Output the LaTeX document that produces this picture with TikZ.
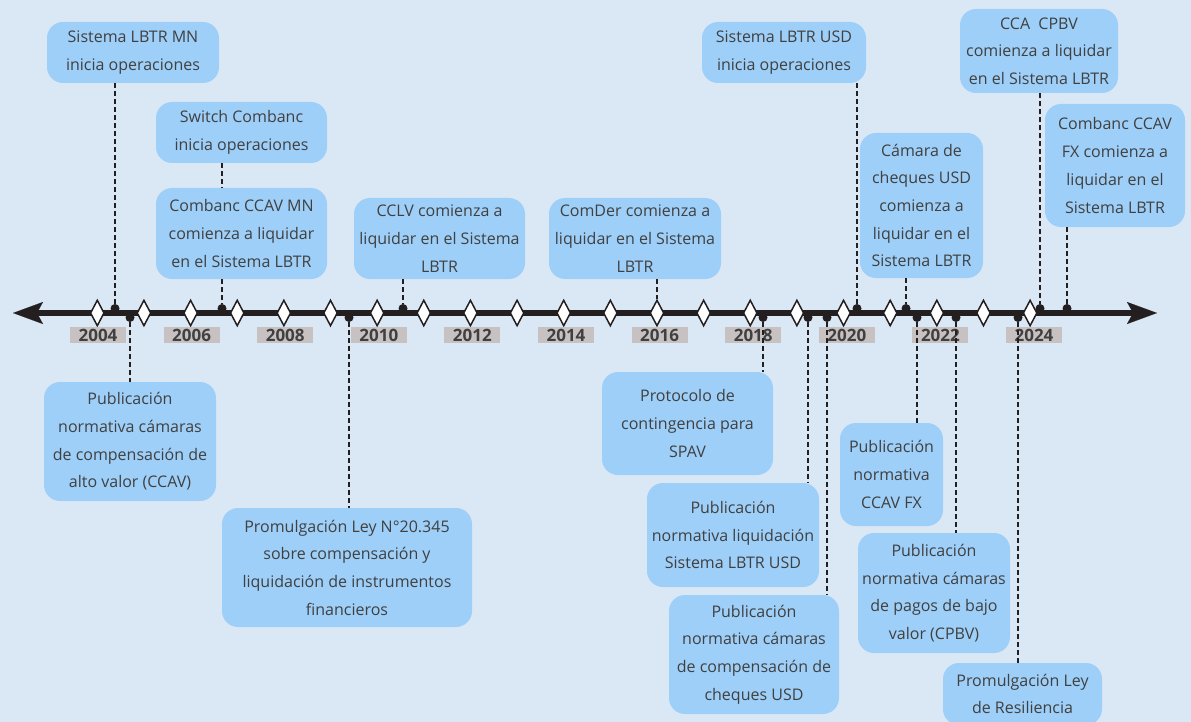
\documentclass[tikz,border=0pt]{standalone}
\usepackage{fontspec}
\setmainfont{Open Sans}
\usetikzlibrary{arrows.meta,shapes.geometric}
\definecolor{bgblue}{RGB}{218,232,246}
\definecolor{boxblue}{RGB}{158,207,248}
\definecolor{yeargray}{RGB}{200,193,193}
\definecolor{inkgray}{RGB}{64,64,64}
\definecolor{axisblack}{RGB}{35,31,32}
\tikzset{
  event/.style={fill=boxblue, rounded corners=16pt, align=center, text=inkgray, inner sep=0pt, font=\fontsize{16}{27.7}\selectfont},
  yearlab/.style={fill=yeargray, minimum width=56pt, minimum height=16pt, inner sep=0pt, text=inkgray, font=\fontsize{17}{17}\selectfont\bfseries},
  tick/.style={draw=axisblack, diamond, fill=white, line width=1.5pt, minimum width=14pt, minimum height=26pt, inner sep=0pt},
  pin/.style={circle, fill=axisblack, minimum size=9pt, inner sep=0pt},
  leader/.style={draw=axisblack, line width=2pt, dash pattern=on 5pt off 3pt},
  timeline/.style={draw=axisblack, line width=6pt, {Stealth[length=30pt,width=22pt,inset=6pt,line width=0.1pt]}-{Stealth[length=30pt,width=22pt,inset=6pt,line width=0.1pt]}}
}

\begin{document}
\begin{tikzpicture}[x=1pt,y=-1pt]
  \fill[bgblue] (0,0) rectangle (1191,722);
  \useasboundingbox (0,0) rectangle (1191,722);
  \clip (0,0) rectangle (1191,722);

  % time axis
  \coordinate (lend) at (13,313);
  \coordinate (rend) at (1157,313);
  \draw[timeline] (lend) -- (rend);

  \foreach \x [count=\i] in {115,222,403,857,906,1040,1067}
    \node[pin] (pa\i) at (\x,308.5) {};
  \foreach \x [count=\i] in {130,349,763,808,827,917,956,1018}
    \node[pin] (pb\i) at (\x,317.5) {};

  \foreach \yr in {2004,...,2024}
    \node[tick] (d\yr) at ({97.3+46.64*(\yr-2004)},313) {};
  \foreach \yr in {2004,2006,...,2024}
    \node[yearlab] (y\yr) at ({98+46.8*(\yr-2004)},335) {\yr};

  % above the axis
  \node[event, minimum width=172pt, minimum height=61pt] (lbtrmn) at (133,52.5) {Sistema LBTR MN\\inicia operaciones};
  \node[event, minimum width=171pt, minimum height=61pt] (switch) at (241.5,132.5) {Switch Combanc\\inicia operaciones};
  \node[event, minimum width=171pt, minimum height=91pt] (ccavmn) at (241.5,233.5) {Combanc CCAV MN\\comienza a liquidar\\en el Sistema LBTR};
  \node[event, minimum width=171pt, minimum height=81pt] (cclv) at (439.5,238.5) {CCLV comienza a\\liquidar en el Sistema\\LBTR};
  \node[event, minimum width=172pt, minimum height=81pt] (comder) at (635,238.5) {ComDer comienza a\\liquidar en el Sistema\\LBTR};
  \node[event, minimum width=164pt, minimum height=61pt] (lbtrusd) at (784,52.5) {Sistema LBTR USD\\inicia operaciones};
  \node[event, minimum width=123pt, minimum height=145pt] (camusd) at (921.5,205.5) {Cámara de\\cheques USD\\comienza a\\liquidar en el\\Sistema LBTR};
  \node[event, minimum width=158pt, minimum height=84pt] (cpbv) at (1039,51) {CCA\ \ CPBV\\comienza a liquidar\\en el Sistema LBTR};
  \node[event, minimum width=140pt, minimum height=123pt] (ccavfx) at (1115,165.5) {Combanc CCAV\\FX comienza a\\liquidar en el\\Sistema LBTR};

  % below the axis
  \node[event, minimum width=172pt, minimum height=119pt] (pubccav) at (130,441.5) {Publicación\\normativa cámaras\\de compensación de\\alto valor (CCAV)};
  \node[event, minimum width=250pt, minimum height=119pt] (ley20345) at (347,567.5) {Promulgación Ley N°20.345\\sobre compensación y\\liquidación de instrumentos\\financieros};
  \node[event, minimum width=171pt, minimum height=103pt] (spav) at (687.5,423.5) {Protocolo de\\contingencia para\\SPAV};
  \node[event, minimum width=172pt, minimum height=104pt] (publbtrusd) at (733,535) {Publicación\\normativa liquidación\\Sistema LBTR USD};
  \node[event, minimum width=170pt, minimum height=119pt] (pubcheques) at (754,654.5) {Publicación\\normativa cámaras\\de compensación de\\cheques USD};
  \node[event, minimum width=103pt, minimum height=103pt] (pubfx) at (891.5,474.5) {Publicación\\normativa\\CCAV FX};
  \node[event, minimum width=152pt, minimum height=120pt] (pubcpbv) at (934,593) {Publicación\\normativa cámaras\\de pagos de bajo\\valor (CPBV)};
  \node[event, minimum width=159pt, minimum height=62pt] (resiliencia) at (1022.5,694) {Promulgación Ley\\de Resiliencia};

  % leaders
  \draw[leader] (pa1 |- lbtrmn.south) -- (pa1);
  \draw[leader] (pa2 |- switch.south) -- (pa2 |- ccavmn.north);
  \draw[leader] (pa2 |- ccavmn.south) -- (pa2);
  \draw[leader] (pa3 |- cclv.south) -- (pa3);
  \draw[leader] (d2016 |- comder.south) -- (d2016.north);
  \draw[leader] (pa4 |- lbtrusd.south) -- (pa4);
  \draw[leader] (pa5 |- camusd.south) -- (pa5);
  \draw[leader] (pa6 |- cpbv.south) -- (pa6);
  \draw[leader] (pa7 |- ccavfx.south) -- (pa7);

  \draw[leader] (pb1) -- (pb1 |- pubccav.north);
  \draw[leader] (pb2) -- (pb2 |- ley20345.north);
  \draw[leader] (pb3) -- (pb3 |- spav.north);
  \draw[leader] (pb4) -- (pb4 |- publbtrusd.north);
  \draw[leader] (pb5) -- (pb5 |- pubcheques.north);
  \draw[leader] (pb6) -- (pb6 |- pubfx.north);
  \draw[leader] (pb7) -- (pb7 |- pubcpbv.north);
  \draw[leader] (pb8) -- (pb8 |- resiliencia.north);
\end{tikzpicture}
\end{document}
